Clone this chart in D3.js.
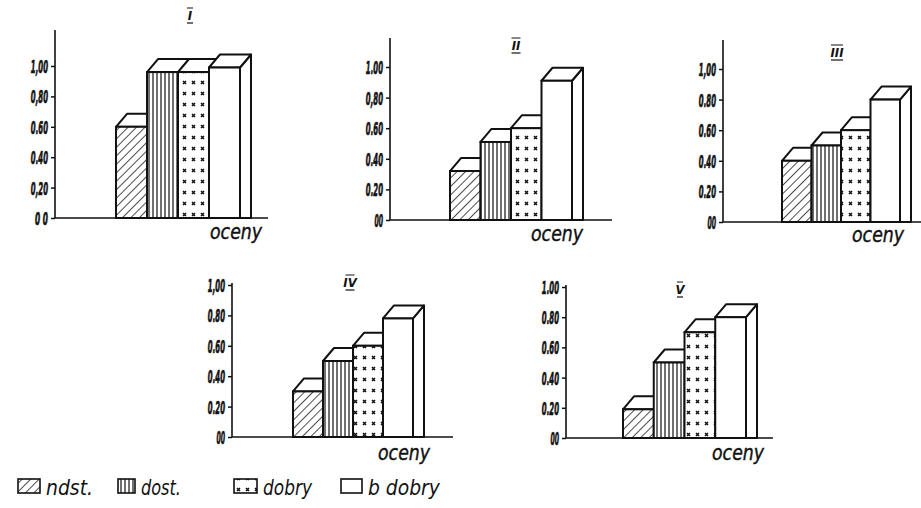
<!DOCTYPE html>
<html>
<head>
<meta charset="utf-8">
<script src="https://cdn.jsdelivr.net/npm/d3@7"></script>
<style>
  html, body { margin: 0; padding: 0; background: #fff; }
  svg { display: block; }
  text { font-family: "DejaVu Sans", sans-serif; font-stretch: condensed; font-style: italic; fill: #111; }
</style>
</head>
<body>
<svg id="chart" width="921" height="508"></svg>
<script>
// grade categories (legend order)
const categories = ["ndst.", "dost.", "dobry", "b dobry"];
const patterns = ["hatch", "vlines", "dots", "plain"];

// share per grade, one array per class
const valuesI   = [0.60, 0.96, 0.96, 0.99];
const valuesII  = [0.32, 0.51, 0.60, 0.91];
const valuesIII = [0.40, 0.50, 0.60, 0.80];
const valuesIV  = [0.30, 0.50, 0.60, 0.78];
const valuesV   = [0.19, 0.50, 0.70, 0.80];

// tick labels as printed
const ticks = [0, 0.2, 0.4, 0.6, 0.8, 1.0];
const tickLabelsI   = ["0 0", "0,20", "0.40", "0.60", "0,80", "1,00"];
const tickLabelsII  = ["00", "0.20", "0.40", "0.60", "0,80", "1.00"];
const tickLabelsIII = ["00", "0.20", "0.40", "0.60", "0.80", "1,00"];
const tickLabelsIV  = ["00", "0.20", "0.40", "0.60", "0.80", "1,00"];
const tickLabelsV   = ["00", "0.20", "0.40", "0.60", "0.80", "1.00"];

const xLabel = "oceny";

// layout of each small chart
const panels = [
  { title: "I",   values: valuesI,   labels: tickLabelsI,   ax: 55,  base: 218, one: 66,  top: 30,  end: 268, bx: 116, bw: 31,   tx: 190, ty: 20,  lx: 236, ly: 239 },
  { title: "II",  values: valuesII,  labels: tickLabelsII,  ax: 390, base: 220, one: 67,  top: 38,  end: 612, bx: 450, bw: 30.5, tx: 516, ty: 50,  lx: 557, ly: 241 },
  { title: "III", values: valuesIII, labels: tickLabelsIII, ax: 723, base: 222, one: 69,  top: 40,  end: 921, bx: 782, bw: 29.5, tx: 837, ty: 57,  lx: 878, ly: 242 },
  { title: "IV",  values: valuesIV,  labels: tickLabelsIV,  ax: 232, base: 437, one: 285, top: 283, end: 453, bx: 293, bw: 30,   tx: 350, ty: 287, lx: 404, ly: 460 },
  { title: "V",   values: valuesV,   labels: tickLabelsV,   ax: 566, base: 438, one: 287, top: 285, end: 773, bx: 623, bw: 30.75,tx: 680, ty: 294, lx: 738, ly: 460 }
];

const depth = { dx: 11, dy: -13 };

const svg = d3.select("#chart");
const defs = svg.append("defs");

// fills
const hatch = defs.append("pattern").attr("id", "hatch")
  .attr("patternUnits", "userSpaceOnUse").attr("width", 6).attr("height", 6)
  .attr("patternTransform", "rotate(45)");
hatch.append("rect").attr("width", 6).attr("height", 6).attr("fill", "#fff");
hatch.append("line").attr("x1", 0).attr("y1", 0).attr("x2", 0).attr("y2", 6)
  .attr("stroke", "#111").attr("stroke-width", 1.5);

const vl = defs.append("pattern").attr("id", "vlines")
  .attr("patternUnits", "userSpaceOnUse").attr("width", 4).attr("height", 4);
vl.append("rect").attr("width", 4).attr("height", 4).attr("fill", "#fff");
vl.append("line").attr("x1", 1).attr("y1", 0).attr("x2", 1).attr("y2", 4)
  .attr("stroke", "#111").attr("stroke-width", 1.2);

const dots = defs.append("pattern").attr("id", "dots")
  .attr("patternUnits", "userSpaceOnUse").attr("width", 9).attr("height", 11);
dots.append("rect").attr("width", 9).attr("height", 11).attr("fill", "#fff");
dots.append("path").attr("d", "M3,4 L6,7 M6,4 L3,7")
  .attr("stroke", "#111").attr("stroke-width", 1.5);

defs.append("pattern").attr("id", "plain")
  .attr("patternUnits", "userSpaceOnUse").attr("width", 4).attr("height", 4)
  .append("rect").attr("width", 4).attr("height", 4).attr("fill", "#fff");

// squeeze a text horizontally to a target width (narrow hand lettering)
function squeeze(el, x, y, w) {
  const s = d3.select(el).attr("x", 0).attr("y", 0);
  const len = el.getComputedTextLength();
  s.attr("transform", `translate(${x},${y}) scale(${len ? w / len : 1},1)`);
}

panels.forEach(p => {
  const g = svg.append("g");

  const y = d3.scaleLinear().domain([0, 1]).range([p.base, p.one]);
  const x = d3.scaleBand().domain(categories).range([p.bx, p.bx + p.bw * categories.length]).padding(0);

  // y axis
  const yAxis = d3.axisLeft(y).tickValues(ticks)
    .tickFormat((d, i) => p.labels[i]).tickSize(4).tickPadding(3);
  const ag = g.append("g").attr("transform", `translate(${p.ax},0)`).call(yAxis);
  ag.select(".domain").remove();
  ag.selectAll("line").attr("stroke", "#111").attr("stroke-width", 1.5);
  ag.selectAll("text").attr("font-family", null).attr("font-size", 18)
    .style("font-weight", "bold").attr("dy", "0.36em")
    .attr("stroke", "#111").attr("stroke-width", 0.7)
    .each(function() { squeeze(this, -7, 0, this.textContent.length * 4.3); });

  g.append("line").attr("x1", p.ax).attr("x2", p.ax).attr("y1", p.top).attr("y2", p.base)
    .attr("stroke", "#111").attr("stroke-width", 1.6);
  g.append("line").attr("x1", p.ax).attr("x2", p.end).attr("y1", p.base).attr("y2", p.base)
    .attr("stroke", "#111").attr("stroke-width", 1.6);

  // 3d bars, left to right so each front face hides the previous side face
  categories.forEach((c, i) => {
    const v = p.values[i];
    const x0 = x(c), x1 = x(c) + x.bandwidth();
    const yt = y(v), yb = y(0);
    const { dx, dy } = depth;
    g.append("path")
      .attr("d", `M${x1},${yt} L${x1 + dx},${yt + dy} L${x1 + dx},${yb} L${x1},${yb} Z`)
      .attr("fill", "#fff").attr("stroke", "#111").attr("stroke-width", 2).attr("stroke-linejoin", "round");
    g.append("path")
      .attr("d", `M${x0},${yt} L${x0 + dx},${yt + dy} L${x1 + dx},${yt + dy} L${x1},${yt} Z`)
      .attr("fill", "#fff").attr("stroke", "#111").attr("stroke-width", 2).attr("stroke-linejoin", "round");
    g.append("rect")
      .attr("x", x0).attr("y", yt).attr("width", x.bandwidth()).attr("height", yb - yt)
      .attr("fill", `url(#${patterns[i]})`).attr("stroke", "#111").attr("stroke-width", 2);
  });

  // title: roman numeral with bars
  g.append("text").attr("x", p.tx).attr("y", p.ty).attr("text-anchor", "middle")
    .attr("font-size", 13).style("font-weight", "bold").text(p.title);
  const tw = p.title.length * 3 + 3;
  g.append("line").attr("x1", p.tx - tw / 2).attr("x2", p.tx + tw / 2)
    .attr("y1", p.ty + 3).attr("y2", p.ty + 3).attr("stroke", "#111").attr("stroke-width", 1.2);
  g.append("line").attr("x1", p.tx - tw / 2).attr("x2", p.tx + tw / 2)
    .attr("y1", p.ty - 12).attr("y2", p.ty - 12).attr("stroke", "#111").attr("stroke-width", 1);

  g.append("text").attr("text-anchor", "middle").attr("font-size", 22).text(xLabel)
    .attr("stroke", "#111").attr("stroke-width", 0.4)
    .each(function() { squeeze(this, p.lx, p.ly, 52); });
});

// legend
const legendX = [18, 118, 234, 341];
const legendW = [22, 17, 23, 21];
const legendTextW = [47, 40, 49, 72];
const lg = svg.append("g");
categories.forEach((c, i) => {
  lg.append("rect").attr("x", legendX[i]).attr("y", 479).attr("width", legendW[i]).attr("height", 14)
    .attr("fill", `url(#${patterns[i]})`).attr("stroke", "#111").attr("stroke-width", 1.6);
  lg.append("text").attr("font-size", 21).text(c)
    .each(function() { squeeze(this, legendX[i] + legendW[i] + 6, 495, legendTextW[i]); });
});
</script>
</body>
</html>
